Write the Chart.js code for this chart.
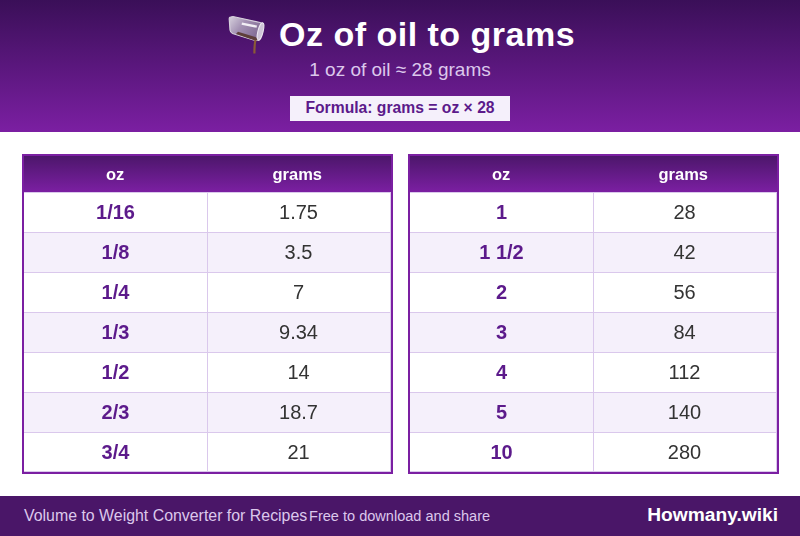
<!DOCTYPE html>
<html>
<head>
<meta charset="utf-8">
<script src="https://cdn.jsdelivr.net/npm/chart.js@4"></script>
<style>
html,body{margin:0;padding:0;background:#fff;}
body{width:800px;height:536px;position:relative;overflow:hidden;font-family:"Liberation Sans",Arial,sans-serif;}
#head{position:absolute;left:0;top:0;width:800px;height:132px;background:linear-gradient(180deg,#3a0f58 0%,#7b1fa2 100%);}
.t{position:absolute;white-space:nowrap;line-height:1;}
#title{left:279px;top:17px;font-size:34px;font-weight:bold;letter-spacing:.5px;color:#fff;}
#sub{left:0;width:800px;text-align:center;top:60px;font-size:19px;color:#dcc8ec;}
#formula{left:290px;top:96px;width:220px;height:25px;line-height:24px;text-align:center;background:#f5f0fb;color:#5c1a8b;font-size:15.7px;font-weight:bold;}
#foot{position:absolute;left:0;top:496px;width:800px;height:40px;background:#4a1668;}
#f1{left:24px;top:12px;font-size:15.9px;color:#dcc8ec;}
#f2{left:309px;top:12.5px;font-size:14.55px;color:#dcc8ec;}
#f3{right:22px;top:9px;font-size:19.2px;font-weight:bold;color:#fff;}
canvas{position:absolute;top:154px;}
#tableA{left:22px;}
#tableB{left:408px;}
#icon{position:absolute;left:226px;top:12px;}
</style>
</head>
<body>
<div id="head">
<svg id="icon" width="42" height="44" viewBox="0 0 42 44">
<defs><linearGradient id="gl" x1="0" y1="0" x2="1" y2="0.6"><stop offset="0" stop-color="#d8d2de"/><stop offset="0.45" stop-color="#a391b3"/><stop offset="1" stop-color="#806a93"/></linearGradient></defs>
<path d="M4.500 5 Q3 5 3.300 8 L4 18 Q4.300 20.500 6.500 21.500 L29 28.500 L33 28 L36.500 13 Q36.500 11 34 10.500 L7 4.500 Z" fill="url(#gl)" stroke="#d6d0dc" stroke-width="1.200"/>
<ellipse cx="34.500" cy="19.500" rx="2.600" ry="9" transform="rotate(14 34.500 19.500)" fill="#cfc6d8" stroke="#eeeaf2" stroke-width="1"/>
<path d="M10 22 L29 28.500 L31.500 28 L30 25.300 L12 19.800 Z" fill="#5e3f3a"/>
<path d="M16 10.500 L31 13.500 L30.500 15.800 L15.500 12.800 Z" fill="#f2eff5"/>
<path d="M29.500 28 Q28.400 32 28.400 41.500" fill="none" stroke="#8a5a36" stroke-width="2.200"/>
</svg>
<div class="t" id="title">Oz of oil to grams</div>
<div class="t" id="sub">1 oz of oil ≈ 28 grams</div>
<div class="t" id="formula">Formula: grams = oz × 28</div>
</div>
<canvas id="tableA" width="371" height="320"></canvas>
<canvas id="tableB" width="371" height="320"></canvas>
<div id="foot">
<div class="t" id="f1">Volume to Weight Converter for Recipes</div>
<div class="t" id="f2">Free to download and share</div>
<div class="t" id="f3">Howmany.wiki</div>
</div>
<script>
const columnNames = ['oz', 'grams'];
const columnCentres = [0.495, 1.485];
const ozLeft = ['1/16', '1/8', '1/4', '1/3', '1/2', '2/3', '3/4'];
const gramsLeft = ['1.75', '3.5', '7', '9.34', '14', '18.7', '21'];
const ozRight = ['1', '1 1/2', '2', '3', '4', '5', '10'];
const gramsRight = ['28', '42', '56', '84', '112', '140', '280'];

const PURPLE = '#7b1fa2', DARK = '#4a1668', LINE = '#dac8ec', STRIPE = '#f5f0fb';
const FONT = '"Liberation Sans", Arial, sans-serif';

const tableFrame = {
  id: 'tableFrame',
  beforeDraw(chart) {
    const { ctx, width, chartArea } = chart;
    const g = ctx.createLinearGradient(0, 0, 0, chartArea.top);
    g.addColorStop(0, DARK);
    g.addColorStop(1, PURPLE);
    ctx.save();
    ctx.fillStyle = g;
    ctx.fillRect(0, 0, width, chartArea.top);
    ctx.restore();
  },
  afterDatasetsDraw(chart) {
    const { ctx, width, height } = chart;
    ctx.save();
    ctx.strokeStyle = PURPLE;
    ctx.lineWidth = 2;
    ctx.strokeRect(1, 1, width - 2, height - 2);
    chart.data.datasets.forEach((ds, di) => {
      const first = di === 0;
      ctx.font = (first ? 'bold ' : '') + '20px ' + FONT;
      ctx.fillStyle = first ? '#5c1a8b' : '#333333';
      ctx.textAlign = 'center';
      ctx.textBaseline = 'middle';
      chart.getDatasetMeta(di).data.forEach((bar, i) => {
        const inset = first ? 1 : 3;
        ctx.fillText(ds.cellText[i], (bar.base + bar.x - inset) / 2, bar.y + 1.5);
      });
    });
    ctx.restore();
  }
};

function drawTable(id, oz, grams) {
  const lastRow = oz.length - 1;
  const common = {
    backgroundColor: oz.map((_, i) => (i % 2 ? STRIPE : '#ffffff')),
    borderColor: LINE,
    borderSkipped: false,
    inflateAmount: 0,
    barPercentage: 1,
    categoryPercentage: 1
  };
  new Chart(document.getElementById(id), {
    type: 'bar',
    plugins: [tableFrame],
    data: {
      labels: oz,
      datasets: [
        Object.assign({}, common, {
          label: columnNames[0], cellText: oz, data: oz.map(() => 1),
          borderWidth: oz.map((_, i) => ({ top: 1, right: 1, bottom: i === lastRow ? 1 : 0, left: 0 }))
        }),
        Object.assign({}, common, {
          label: columnNames[1], cellText: grams, data: oz.map(() => 1),
          borderWidth: oz.map((_, i) => ({ top: 1, right: 2, bottom: i === lastRow ? 1 : 0, left: 0 }))
        })
      ]
    },
    options: {
      indexAxis: 'y',
      responsive: false,
      animation: false,
      devicePixelRatio: 1,
      layout: { padding: { left: 2, right: 1, top: 2, bottom: 2 } },
      plugins: { legend: { display: false }, tooltip: { enabled: false } },
      scales: {
        y: { type: 'category', stacked: true, display: false },
        x: {
          type: 'linear', position: 'top', stacked: true, min: 0, max: 2,
          grid: { display: false, drawTicks: false }, border: { display: false },
          afterFit(s) { s.height = 36; },
          afterBuildTicks(s) { s.ticks = columnCentres.map(v => ({ value: v })); },
          ticks: {
            autoSkip: false, maxRotation: 0, padding: 7,
            color: '#ffffff',
            font: { family: FONT, size: 16.5, weight: 'bold' },
            callback(v) { return columnNames[columnCentres.indexOf(v)]; }
          }
        }
      }
    }
  });
}

drawTable('tableA', ozLeft, gramsLeft);
drawTable('tableB', ozRight, gramsRight);
</script>
</body>
</html>
